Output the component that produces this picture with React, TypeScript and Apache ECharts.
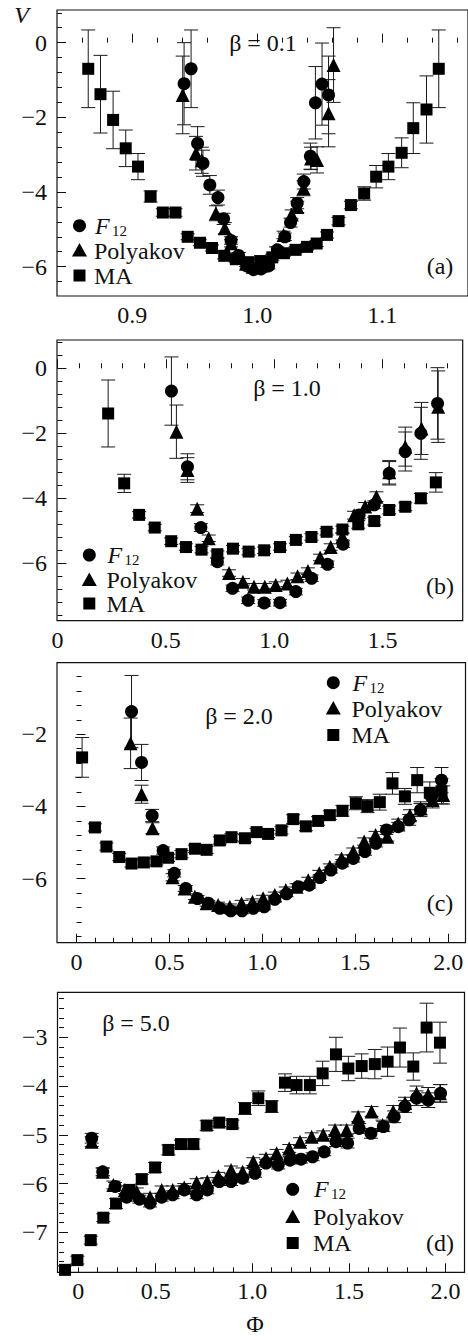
import React, { useEffect, useRef } from "react";
import * as echarts from "echarts";

type P = [number, number, number]; // [Phi, V, error]

// ---------- Panel (a), beta = 0.1 ----------
const A_F12: P[] = [
  [0.9414, -1.10, 1.10], [0.9470, -0.70, 1.04], [0.9522, -2.70, 0.45], [0.9565, -3.23, 0.35],
  [0.9620, -3.81, 0.25], [0.9685, -4.15, 0.20], [0.9730, -4.72, 0.15], [0.9790, -5.30, 0.10],
  [0.9850, -5.70, 0.08], [0.9915, -5.98, 0.08], [0.9970, -6.08, 0.08], [1.0030, -6.06, 0.08],
  [1.0090, -5.98, 0.08], [1.0160, -5.55, 0.08], [1.0220, -5.20, 0.10], [1.0266, -4.82, 0.12],
  [1.0319, -4.30, 0.15], [1.0372, -3.72, 0.20], [1.0425, -3.04, 0.35], [1.0465, -1.61, 0.97],
  [1.0518, -1.11, 1.10], [1.0570, -1.40, 1.04],
];
const A_POL: P[] = [
  [0.9403, -1.40, 1.04], [0.9509, -2.96, 0.45], [0.9555, -3.15, 0.35], [0.9669, -4.57, 0.20],
  [0.9740, -4.97, 0.15], [0.9790, -5.37, 0.10], [0.9850, -5.70, 0.08], [0.9910, -5.92, 0.08],
  [0.9965, -6.00, 0.08], [1.0020, -5.98, 0.08], [1.0080, -5.85, 0.08], [1.0150, -5.55, 0.08],
  [1.0210, -5.15, 0.10], [1.0275, -4.60, 0.12], [1.0320, -4.40, 0.15], [1.0370, -3.90, 0.20],
  [1.0430, -3.10, 0.30], [1.0478, -3.14, 0.35], [1.0570, -1.89, 0.90], [1.0610, -0.60, 1.00],
];
const A_MA: P[] = [
  [0.8647, -0.70, 1.04], [0.8745, -1.38, 1.04], [0.8846, -2.07, 0.77], [0.8947, -2.83, 0.49],
  [0.9045, -3.32, 0.35], [0.9146, -4.12, 0.15], [0.9244, -4.55, 0.10], [0.9345, -4.55, 0.10],
  [0.9443, -5.20, 0.08], [0.9541, -5.36, 0.08], [0.9637, -5.50, 0.08], [0.9735, -5.71, 0.08],
  [0.9828, -5.80, 0.08], [0.9926, -5.88, 0.08], [1.0023, -5.85, 0.08], [1.0120, -5.75, 0.08],
  [1.0213, -5.64, 0.08], [1.0306, -5.55, 0.08], [1.0398, -5.47, 0.08], [1.0475, -5.38, 0.08],
  [1.0558, -5.15, 0.08], [1.0650, -4.78, 0.10], [1.0749, -4.35, 0.10], [1.0855, -4.04, 0.18],
  [1.0951, -3.59, 0.30], [1.1049, -3.32, 0.35], [1.1155, -2.95, 0.40], [1.1248, -2.29, 0.68],
  [1.1354, -1.79, 0.90], [1.1452, -0.70, 1.04],
];

// ---------- Panel (b), beta = 1.0 ----------
const B_F12: P[] = [
  [0.526, -0.70, 1.05], [0.600, -3.03, 0.40], [0.662, -4.90, 0.12], [0.738, -5.95, 0.10],
  [0.808, -6.77, 0.10], [0.880, -7.14, 0.10], [0.954, -7.22, 0.10], [1.027, -7.21, 0.10],
  [1.100, -6.87, 0.10], [1.173, -6.46, 0.10], [1.246, -6.03, 0.10], [1.318, -5.41, 0.10],
  [1.392, -4.51, 0.12], [1.462, -4.20, 0.12], [1.531, -3.23, 0.36], [1.605, -2.56, 0.60],
  [1.677, -2.00, 0.80], [1.754, -1.08, 1.10],
];
const B_POL: P[] = [
  [0.549, -1.95, 0.82], [0.600, -3.13, 0.38], [0.645, -4.32, 0.12], [0.698, -5.23, 0.10],
  [0.792, -6.30, 0.10], [0.856, -6.57, 0.10], [0.907, -6.72, 0.10], [0.957, -6.72, 0.10],
  [1.007, -6.67, 0.10], [1.061, -6.62, 0.10], [1.108, -6.40, 0.10], [1.156, -6.24, 0.10],
  [1.212, -5.82, 0.10], [1.261, -5.50, 0.10], [1.315, -5.18, 0.10], [1.369, -4.52, 0.12],
  [1.420, -4.25, 0.12], [1.472, -3.95, 0.15], [1.531, -3.20, 0.36], [1.605, -2.41, 0.60],
  [1.680, -1.85, 0.80], [1.757, -1.18, 1.10],
];
const B_MA: P[] = [
  [0.234, -1.39, 1.03], [0.308, -3.54, 0.28], [0.377, -4.51, 0.10], [0.449, -4.90, 0.10],
  [0.525, -5.32, 0.10], [0.593, -5.50, 0.10], [0.665, -5.58, 0.10], [0.738, -5.72, 0.10],
  [0.810, -5.55, 0.10], [0.882, -5.64, 0.10], [0.954, -5.60, 0.10], [1.027, -5.50, 0.10],
  [1.100, -5.28, 0.10], [1.172, -5.19, 0.10], [1.242, -5.03, 0.10], [1.315, -4.96, 0.10],
  [1.388, -4.80, 0.12], [1.462, -4.70, 0.12], [1.531, -4.36, 0.12], [1.605, -4.26, 0.12],
  [1.677, -4.00, 0.15], [1.746, -3.51, 0.30],
];

// ---------- Panel (c), beta = 2.0 ----------
const C_F12: P[] = [
  [0.296, -1.37, 1.00], [0.350, -2.78, 0.50], [0.407, -4.25, 0.17], [0.466, -5.22, 0.10],
  [0.526, -5.85, 0.10], [0.588, -6.27, 0.08], [0.651, -6.55, 0.08], [0.709, -6.68, 0.08],
  [0.771, -6.82, 0.08], [0.830, -6.89, 0.08], [0.891, -6.89, 0.08], [0.951, -6.82, 0.08],
  [1.010, -6.78, 0.08], [1.067, -6.57, 0.08], [1.130, -6.42, 0.08], [1.193, -6.22, 0.08],
  [1.252, -6.18, 0.08], [1.309, -5.97, 0.08], [1.369, -5.76, 0.08], [1.430, -5.57, 0.10],
  [1.489, -5.44, 0.10], [1.552, -5.25, 0.10], [1.611, -5.02, 0.10], [1.668, -4.65, 0.12],
  [1.731, -4.56, 0.12], [1.790, -4.37, 0.15], [1.851, -4.10, 0.18], [1.910, -3.73, 0.22],
  [1.964, -3.27, 0.35],
];
const C_POL: P[] = [
  [0.291, -2.25, 0.70], [0.350, -3.66, 0.25], [0.409, -4.60, 0.15], [0.517, -5.96, 0.10],
  [0.582, -6.27, 0.08], [0.637, -6.50, 0.08], [0.700, -6.68, 0.08], [0.762, -6.73, 0.08],
  [0.825, -6.78, 0.08], [0.888, -6.68, 0.08], [0.947, -6.64, 0.08], [1.004, -6.54, 0.08],
  [1.067, -6.45, 0.08], [1.126, -6.31, 0.08], [1.184, -6.22, 0.08], [1.247, -6.04, 0.08],
  [1.306, -5.85, 0.08], [1.363, -5.67, 0.08], [1.426, -5.44, 0.10], [1.489, -5.25, 0.10],
  [1.548, -4.97, 0.10], [1.609, -4.79, 0.10], [1.672, -4.84, 0.12], [1.731, -4.47, 0.12],
  [1.794, -4.24, 0.15], [1.851, -4.05, 0.18], [1.916, -3.82, 0.22], [1.973, -3.68, 0.25],
];
const C_MA: P[] = [
  [0.030, -2.64, 0.55], [0.099, -4.58, 0.10], [0.161, -5.11, 0.10], [0.230, -5.40, 0.10],
  [0.296, -5.58, 0.10], [0.362, -5.55, 0.10], [0.430, -5.52, 0.10], [0.493, -5.42, 0.10],
  [0.565, -5.32, 0.10], [0.637, -5.17, 0.10], [0.700, -5.20, 0.10], [0.771, -4.94, 0.10],
  [0.834, -4.85, 0.10], [0.906, -4.88, 0.10], [0.969, -4.71, 0.10], [1.031, -4.76, 0.10],
  [1.103, -4.66, 0.10], [1.166, -4.35, 0.12], [1.234, -4.55, 0.12], [1.300, -4.40, 0.12],
  [1.363, -4.24, 0.12], [1.431, -4.12, 0.15], [1.503, -3.91, 0.18], [1.566, -3.99, 0.18],
  [1.632, -3.88, 0.22], [1.700, -3.36, 0.30], [1.767, -3.72, 0.22], [1.833, -3.27, 0.35],
  [1.901, -3.62, 0.30], [1.964, -3.58, 0.35],
];

// ---------- Panel (d), beta = 5.0 ----------
const D_F12: P[] = [
  [0.169, -5.07, 0.10], [0.226, -5.76, 0.08], [0.290, -6.06, 0.08], [0.350, -6.28, 0.08],
  [0.416, -6.32, 0.08], [0.471, -6.40, 0.08], [0.531, -6.28, 0.08], [0.588, -6.23, 0.08],
  [0.648, -6.13, 0.08], [0.712, -6.23, 0.08], [0.767, -6.13, 0.08], [0.829, -5.96, 0.08],
  [0.890, -5.96, 0.08], [0.950, -5.89, 0.08], [1.014, -5.79, 0.08], [1.071, -5.58, 0.08],
  [1.134, -5.62, 0.08], [1.195, -5.52, 0.08], [1.252, -5.50, 0.08], [1.312, -5.45, 0.08],
  [1.372, -5.35, 0.08], [1.433, -5.14, 0.10], [1.493, -5.17, 0.10], [1.553, -4.87, 0.10],
  [1.614, -4.97, 0.10], [1.678, -4.83, 0.10], [1.734, -4.63, 0.12], [1.790, -4.42, 0.12],
  [1.850, -4.25, 0.15], [1.910, -4.29, 0.15], [1.974, -4.15, 0.18],
];
const D_POL: P[] = [
  [0.169, -5.14, 0.10], [0.226, -5.76, 0.08], [0.281, -6.03, 0.08], [0.341, -6.13, 0.08],
  [0.402, -6.17, 0.08], [0.471, -6.28, 0.08], [0.531, -6.13, 0.08], [0.588, -6.13, 0.08],
  [0.648, -6.08, 0.08], [0.712, -5.98, 0.08], [0.767, -5.96, 0.08], [0.824, -5.85, 0.08],
  [0.890, -5.72, 0.08], [0.950, -5.76, 0.08], [1.005, -5.55, 0.08], [1.071, -5.48, 0.08],
  [1.126, -5.38, 0.08], [1.191, -5.28, 0.08], [1.247, -5.14, 0.08], [1.307, -5.04, 0.08],
  [1.367, -5.00, 0.08], [1.428, -4.90, 0.10], [1.488, -4.90, 0.10], [1.548, -4.63, 0.10],
  [1.617, -4.52, 0.10], [1.674, -4.80, 0.10], [1.729, -4.52, 0.12], [1.790, -4.35, 0.12],
  [1.850, -4.15, 0.15], [1.910, -4.18, 0.15], [1.971, -4.15, 0.18],
];
const D_MA: P[] = [
  [0.031, -7.77, 0.08], [0.095, -7.57, 0.08], [0.164, -7.16, 0.08], [0.229, -6.70, 0.08],
  [0.295, -6.41, 0.10], [0.364, -6.13, 0.08], [0.428, -5.91, 0.10], [0.497, -5.67, 0.10],
  [0.566, -5.31, 0.10], [0.631, -5.19, 0.08], [0.695, -5.19, 0.10], [0.764, -4.81, 0.10],
  [0.829, -4.75, 0.08], [0.897, -4.78, 0.08], [0.962, -4.46, 0.12], [1.031, -4.25, 0.15],
  [1.100, -4.42, 0.12], [1.169, -3.93, 0.18], [1.229, -3.98, 0.18], [1.298, -3.98, 0.18],
  [1.364, -3.74, 0.25], [1.433, -3.35, 0.35], [1.497, -3.64, 0.25], [1.566, -3.59, 0.25],
  [1.634, -3.55, 0.30], [1.700, -3.50, 0.30], [1.764, -3.21, 0.40], [1.833, -3.60, 0.28],
  [1.902, -2.80, 0.50], [1.971, -3.11, 0.42],
];

// ---------- tick values / labels ----------
const A_X_LABELS = [0.9, 1.0, 1.1];
const A_X_MINOR = [0.86, 0.88, 0.92, 0.94, 0.96, 0.98, 1.02, 1.04, 1.06, 1.08, 1.12, 1.14, 1.16];
const A_Y_LABELS = [0, -2, -4, -6];
const A_Y_MINOR = [0.8, 0.4, -0.4, -0.8, -1.2, -1.6, -2.4, -2.8, -3.2, -3.6, -4.4, -4.8, -5.2, -5.6, -6.4];

const B_X_LABELS = [0, 0.5, 1.0, 1.5];
const B_X_MINOR = [0.1, 0.2, 0.3, 0.4, 0.6, 0.7, 0.8, 0.9, 1.1, 1.2, 1.3, 1.4, 1.6, 1.7, 1.8];
const B_Y_LABELS = [0, -2, -4, -6];
const B_Y_MINOR = [0.8, 0.4, -0.4, -0.8, -1.2, -1.6, -2.4, -2.8, -3.2, -3.6, -4.4, -4.8, -5.2, -5.6, -6.4, -6.8, -7.2, -7.6];

const C_X_LABELS = [0, 0.5, 1.0, 1.5, 2.0];
const C_X_MINOR = [0.1, 0.2, 0.3, 0.4, 0.6, 0.7, 0.8, 0.9, 1.1, 1.2, 1.3, 1.4, 1.6, 1.7, 1.8, 1.9];
const C_Y_LABELS = [-2, -4, -6];
const C_Y_MINOR = [-0.4, -0.8, -1.2, -1.6, -2.4, -2.8, -3.2, -3.6, -4.4, -4.8, -5.2, -5.6, -6.4, -6.8, -7.2, -7.6];

// in (d) the printed "0" sits under the first minor tick
const D_X_LABELS = [0.1, 0.5, 1.0, 1.5, 2.0];
const D_X_MAJOR = [0.5, 1.0, 1.5, 2.0];
const D_X_MINOR = [0.1, 0.2, 0.3, 0.4, 0.6, 0.7, 0.8, 0.9, 1.1, 1.2, 1.3, 1.4, 1.6, 1.7, 1.8, 1.9];
const D_Y_LABELS = [-3, -4, -5, -6, -7];
const D_Y_MINOR = [-2.2, -2.4, -2.6, -2.8, -3.2, -3.4, -3.6, -3.8, -4.2, -4.4, -4.6, -4.8, -5.2, -5.4, -5.6, -5.8,
  -6.2, -6.4, -6.6, -6.8, -7.2, -7.4, -7.6, -7.8];

const SERIES_NAMES = ["F12", "Polyakov", "MA"];
const BETAS = ["β = 0.1", "β = 1.0", "β = 2.0", "β = 5.0"];
const LETTERS = ["(a)", "(b)", "(c)", "(d)"];

const FONT = "Liberation Serif, serif";
const INK = "#111";

const fmtY = (v: number) => (v < 0 ? "\u2212" : "") + String(Math.abs(v));

const panels = [
  {
    grid: { left: 57, top: 10, width: 413, height: 286 },
    x: [0.8397, 1.1686], y: [-6.786, 0.875],
    xLabels: A_X_LABELS, xMajor: A_X_LABELS, xMinor: A_X_MINOR, yLabels: A_Y_LABELS, yMinor: A_Y_MINOR,
    xFmt: (v: number) => v.toFixed(1),
    data: [A_F12, A_POL, A_MA],
    beta: { x: 263, y: 43 }, letter: { x: 440, y: 266 },
    legend: { ix: 79.5, tx: 94, rows: [225.7, 250.5, 275.5] },
  },
  {
    grid: { left: 57, top: 340, width: 405.7, height: 280.7 },
    x: [-0.002, 1.87], y: [-7.766, 0.871],
    xLabels: B_X_LABELS, xMajor: B_X_LABELS, xMinor: B_X_MINOR, yLabels: B_Y_LABELS, yMinor: B_Y_MINOR,
    xFmt: (v: number) => (v === 0 ? "0" : v.toFixed(1)),
    data: [B_F12, B_POL, B_MA],
    beta: { x: 287, y: 388 }, letter: { x: 440, y: 586 },
    legend: { ix: 89.3, tx: 106.5, rows: [555, 580, 603.5] },
  },
  {
    grid: { left: 57, top: 662.7, width: 408.5, height: 280 },
    x: [-0.105, 2.093], y: [-7.773, -0.017],
    xLabels: C_X_LABELS, xMajor: C_X_LABELS, xMinor: C_X_MINOR, yLabels: C_Y_LABELS, yMinor: C_Y_MINOR,
    xFmt: (v: number) => (v === 0 ? "0" : v.toFixed(1)),
    data: [C_F12, C_POL, C_MA],
    beta: { x: 239, y: 716 }, letter: { x: 440, y: 903 },
    legend: { ix: 333.3, tx: 351.5, rows: [682.7, 708.5, 735] },
  },
  {
    grid: { left: 57.5, top: 992.3, width: 407, height: 280 },
    x: [-0.008, 2.098], y: [-7.82, -2.077],
    xLabels: D_X_LABELS, xMajor: D_X_MAJOR, xMinor: D_X_MINOR, yLabels: D_Y_LABELS, yMinor: D_Y_MINOR,
    xFmt: (v: number) => (v < 0.2 ? "0" : v.toFixed(1)),
    data: [D_F12, D_POL, D_MA],
    beta: { x: 136, y: 1023 }, letter: { x: 440, y: 1243 },
    legend: { ix: 292.7, tx: 313, rows: [1189.3, 1217, 1243] },
  },
];

const SYMBOLS = ["circle", "triangle", "rect"];
const SYMBOL_SIZES = [13, 14, 12];

const renderErr = (params: any, api: any) => {
  const x = api.value(0);
  const y = api.value(1);
  const e = api.value(2);
  const t = api.coord([x, y + e]);
  const b = api.coord([x, y - e]);
  const w = 7;
  const style = { stroke: "#1a1a1a", lineWidth: 1, fill: null };
  return {
    type: "group",
    children: [
      { type: "line", shape: { x1: t[0], y1: t[1], x2: b[0], y2: b[1] }, style },
      { type: "line", shape: { x1: t[0] - w, y1: t[1], x2: t[0] + w, y2: t[1] }, style },
      { type: "line", shape: { x1: b[0] - w, y1: b[1], x2: b[0] + w, y2: b[1] }, style },
    ],
  };
};

const txt = (text: string, x: number, y: number, size: number, align: string, extra: any = {}) => ({
  type: "text",
  x,
  y,
  silent: true,
  style: {
    text,
    fill: INK,
    fontSize: size,
    fontFamily: FONT,
    align,
    verticalAlign: "middle",
    textAlign: align,
    textVerticalAlign: "middle",
    ...extra,
  },
});

function buildOption() {
  const grid: any[] = [];
  const xAxis: any[] = [];
  const yAxis: any[] = [];
  const series: any[] = [];
  const graphic: any[] = [];

  panels.forEach((p, i) => {
    grid.push({ ...p.grid, show: true, borderColor: INK, borderWidth: 1.2, backgroundColor: "transparent" });
    const common = { type: "value", gridIndex: i, splitLine: { show: false }, axisLine: { show: false } };
    xAxis.push({
      ...common, position: "bottom", min: p.x[0], max: p.x[1],
      axisTick: { show: true, inside: true, length: 9, customValues: p.xMajor, lineStyle: { color: INK, width: 1 } },
      axisLabel: { show: true, customValues: p.xLabels, formatter: p.xFmt, margin: 7, color: INK, fontFamily: FONT, fontSize: 24 },
    });
    xAxis.push({
      ...common, position: "bottom", min: p.x[0], max: p.x[1],
      axisTick: { show: true, inside: true, length: 5, customValues: p.xMinor, lineStyle: { color: INK, width: 1 } },
      axisLabel: { show: false },
    });
    yAxis.push({
      ...common, position: "left", min: p.y[0], max: p.y[1],
      axisTick: { show: true, inside: true, length: 9, customValues: p.yLabels, lineStyle: { color: INK, width: 1 } },
      axisLabel: { show: true, customValues: p.yLabels, formatter: fmtY, margin: 10, color: INK, fontFamily: FONT, fontSize: 24 },
    });
    yAxis.push({
      ...common, position: "left", min: p.y[0], max: p.y[1],
      axisTick: { show: true, inside: true, length: 5, customValues: p.yMinor, lineStyle: { color: INK, width: 1 } },
      axisLabel: { show: false },
    });

    p.data.forEach((d, k) => {
      series.push({
        type: "custom",
        name: SERIES_NAMES[k] + " err " + i,
        xAxisIndex: 2 * i,
        yAxisIndex: 2 * i,
        dimensions: ["x", "y", "e"],
        encode: { x: 0, y: 1 },
        renderItem: renderErr,
        data: d,
        clip: true,
        silent: true,
        z: 2,
      });
    });
    p.data.forEach((d, k) => {
      series.push({
        type: "scatter",
        name: SERIES_NAMES[k],
        xAxisIndex: 2 * i,
        yAxisIndex: 2 * i,
        symbol: SYMBOLS[k],
        symbolSize: SYMBOL_SIZES[k],
        itemStyle: { color: "#000", opacity: 1 },
        data: d.map((q) => [q[0], q[1]]),
        silent: true,
        z: 3,
      });
    });

    // legend drawn as graphic marks
    const L = p.legend;
    graphic.push({ type: "circle", silent: true, shape: { cx: L.ix, cy: L.rows[0], r: 6.5 }, style: { fill: "#000" } });
    graphic.push({
      type: "polygon", silent: true,
      shape: { points: [[L.ix, L.rows[1] - 7.5], [L.ix - 7.5, L.rows[1] + 6], [L.ix + 7.5, L.rows[1] + 6]] },
      style: { fill: "#000" },
    });
    graphic.push({ type: "rect", silent: true, shape: { x: L.ix - 6, y: L.rows[2] - 6, width: 12, height: 12 }, style: { fill: "#000" } });
    graphic.push(txt("F", L.tx + 1, L.rows[0], 24, "left", { fontStyle: "italic" }));
    graphic.push(txt("12", L.tx + 18, L.rows[0] + 5, 15, "left"));
    graphic.push(txt(SERIES_NAMES[1], L.tx, L.rows[1], 24, "left"));
    graphic.push(txt(SERIES_NAMES[2], L.tx, L.rows[2], 24, "left"));

    graphic.push(txt(BETAS[i], p.beta.x, p.beta.y, 24, "center"));
    graphic.push(txt(LETTERS[i], p.letter.x, p.letter.y, 24, "center"));
  });

  graphic.push(txt("V", 21.7, 15, 24, "center", { fontStyle: "italic" }));
  graphic.push(txt("Φ", 255, 1324, 24, "center"));

  return {
    animation: false,
    backgroundColor: "#fff",
    grid,
    xAxis,
    yAxis,
    series,
    graphic: { elements: graphic },
  };
}

export default function App() {
  const ref = useRef<HTMLDivElement>(null);
  useEffect(() => {
    if (!ref.current) return;
    const chart = echarts.init(ref.current, undefined, { renderer: "svg" });
    chart.setOption(buildOption() as any);
    return () => chart.dispose();
  }, []);
  return (
    <div
      ref={ref}
      style={{ position: "fixed", left: 0, top: 0, width: 468, height: 1336, background: "#fff" }}
    />
  );
}
